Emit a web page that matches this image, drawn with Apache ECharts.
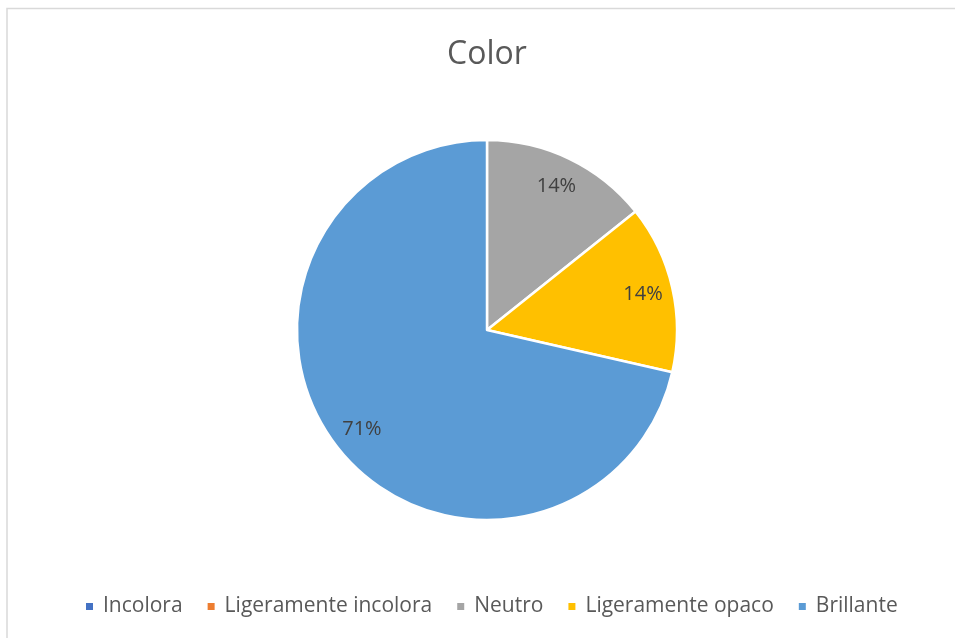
<!DOCTYPE html>
<html>
<head>
<meta charset="utf-8">
<script src="https://cdn.jsdelivr.net/npm/echarts@6/dist/echarts.min.js"></script>
<style>
html,body{margin:0;padding:0;background:#fff;}
#chart{width:955px;height:638px;}
</style>
</head>
<body>
<div id="chart"></div>
<script>
const categories = ['Incolora', 'Ligeramente incolora', 'Neutro', 'Ligeramente opaco', 'Brillante'];
const values = [0, 0, 1, 1, 5];
const colors = ['#4472C4', '#ED7D31', '#A5A5A5', '#FFC000', '#5B9BD5'];
const titleText = 'Color';

const data = categories.map((c, i) => ({ name: c, value: values[i], itemStyle: { color: colors[i] } }));
const FONT = '"Open Sans", "Noto Sans", sans-serif';

const chart = echarts.init(document.getElementById('chart'));
chart.setOption({
  animation: false,
  backgroundColor: '#fff',
  title: {
    text: titleText,
    left: 442,
    top: 34,
    textStyle: { fontFamily: FONT, fontSize: 32, fontWeight: 'normal', color: '#595959' }
  },
  legend: {
    bottom: 16,
    left: 79,
    icon: 'rect',
    itemWidth: 9,
    itemHeight: 9,
    itemGap: 23,
    data: categories,
    textStyle: { fontFamily: FONT, fontSize: 21, color: '#595959', padding: [0, 0, 0, 4] }
  },
  graphic: [{
    type: 'rect',
    shape: { x: 7, y: 8.5, width: 1000, height: 1000 },
    style: { fill: 'none', stroke: '#D9D9D9', lineWidth: 1.5 },
    silent: true
  }],
  series: [{
    type: 'pie',
    center: [487, 330],
    radius: [0, 190],
    startAngle: 90,
    clockwise: true,
    label: { show: false },
    labelLine: { show: false },
    itemStyle: { borderColor: '#fff', borderWidth: 2.5 },
    emphasis: { disabled: true },
    data: data
  }, {
    type: 'pie',
    center: [487, 330],
    radius: [124, 190],
    startAngle: 90,
    clockwise: true,
    silent: true,
    itemStyle: { color: 'rgba(0,0,0,0)', borderWidth: 0 },
    labelLine: { show: false },
    label: {
      show: true,
      position: 'inside',
      fontFamily: FONT,
      fontSize: 20,
      color: '#404040',
      formatter: function (p) { return p.value > 0 ? Math.round(p.percent) + '%' : ''; }
    },
    emphasis: { disabled: true },
    data: categories.map((c, i) => ({ name: c, value: values[i] }))
  }]
});
</script>
</body>
</html>
